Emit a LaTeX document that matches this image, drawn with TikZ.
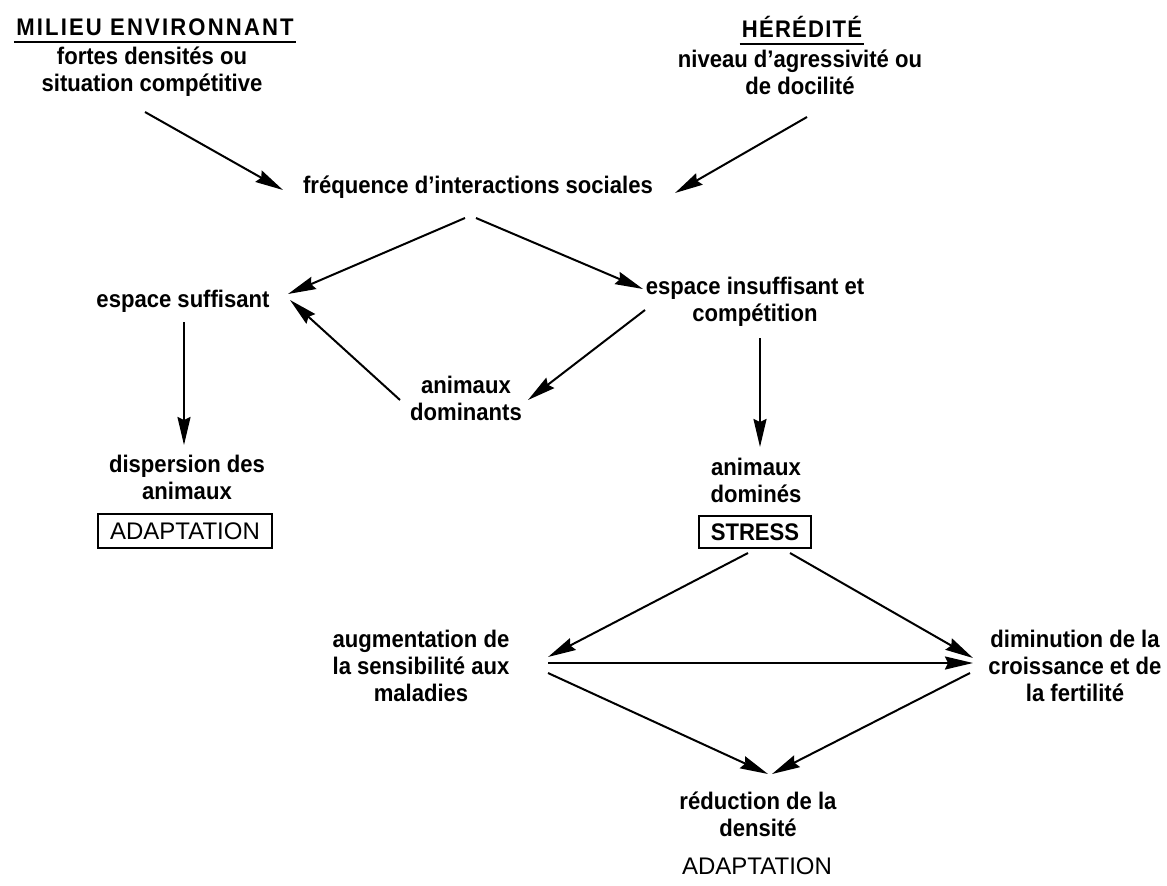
\documentclass[tikz,border=0pt]{standalone}
\usepackage{fontspec}
\setmainfont{Liberation Sans}[BoldFeatures={FakeStretch=0.92}]
\usepackage{tikz}
\usetikzlibrary{positioning,arrows.meta,calc}
\tikzset{
  lbl/.style={align=center,inner sep=1pt},
  head/.style={inner xsep=1pt,inner ysep=3pt},
  framed/.style={draw,line width=1.1pt,inner sep=2pt,minimum height=17pt},
  arr/.style={-{Stealth[length=14pt,width=6.5pt,inset=1.5pt]},line width=1pt},
}

\begin{document}
\begin{tikzpicture}[x=0.5pt,y=-0.5pt,font=\fontsize{12}{13.5}\selectfont\bfseries]
\useasboundingbox (0,0) rectangle (1167,885);
% top: the two causes
\node[head] (milieu) at (155,27) {\addfontfeature{LetterSpace=9}MILIEU ENVIRONNANT};
\draw[line width=0.9pt] (milieu.south west) -- (milieu.south east);
\node[lbl] (milieuTxt) at (152,72) {fortes densités ou\\situation compétitive};
\node[head] (hered) at (802,27) {\addfontfeature{LetterSpace=5}HÉRÉDITÉ};
\draw[line width=0.9pt] (hered.south west) -- (hered.south east);
\node[lbl] (heredTxt) at (800,72) {niveau d’agressivité ou\\de docilité};
\node[lbl] (freq) at (478,187) {fréquence d’interactions sociales};
% middle
\node[lbl] (suff) at (183,301) {espace suffisant};
\node[lbl] (insuff) at (755,302) {espace insuffisant et\\compétition};
\node[lbl] (domin) at (466,398) {animaux\\dominants};
\node[lbl] (disp) at (187,477) {dispersion des\\animaux};
\node[framed,minimum width=87pt] (adapt) at (185,531) {\mdseries ADAPTATION};
\node[lbl] (domines) at (756,480) {animaux\\dominés};
\node[framed,minimum width=56pt,minimum height=16pt] (stress) at (755,532) {STRESS};
% bottom
\node[lbl] (augm) at (421,666) {augmentation de\\la sensibilité aux\\maladies};
\node[lbl] (dimin) at (1075,666) {diminution de la\\croissance et de\\la fertilité};
\node[lbl] (reduc) at (758,814) {réduction de la\\densité};
\node[lbl] (adaptB) at (757,866) {\mdseries ADAPTATION};
% arrows
\draw[arr] ($(milieuTxt)+(-7,40)$) -- ($(freq)+(-195,3)$);
\draw[arr] ($(heredTxt)+(7,45)$) -- ($(freq)+(197,6)$);
\draw[arr] ($(freq)+(-13,31)$) -- ($(suff)+(105,-7)$);
\draw[arr] ($(freq)+(-2,31)$) -- ($(insuff)+(-112,-13)$);
\draw[arr] ($(insuff)+(-110,8)$) -- ($(domin)+(62,2)$);
\draw[arr] ($(domin)+(-66,2)$) -- ($(suff)+(107,-1)$);
\draw[arr] ($(suff)+(1,21)$) -- ($(disp)+(-3,-32)$);
\draw[arr] ($(insuff)+(5,36)$) -- ($(domines)+(4,-33)$);
\draw[arr] ($(stress)+(-7,21)$) -- ($(augm)+(127,-9)$);
\draw[arr] ($(stress)+(35,21)$) -- ($(dimin)+(-102,-8)$);
\draw[arr] ($(augm)+(127,-3)$) -- ($(dimin)+(-102,-3)$);
\draw[arr] ($(augm)+(127,7)$) -- ($(reduc)+(10,-40)$);
\draw[arr] ($(dimin)+(-105,7)$) -- ($(reduc)+(14,-40)$);
\end{tikzpicture}
\end{document}
